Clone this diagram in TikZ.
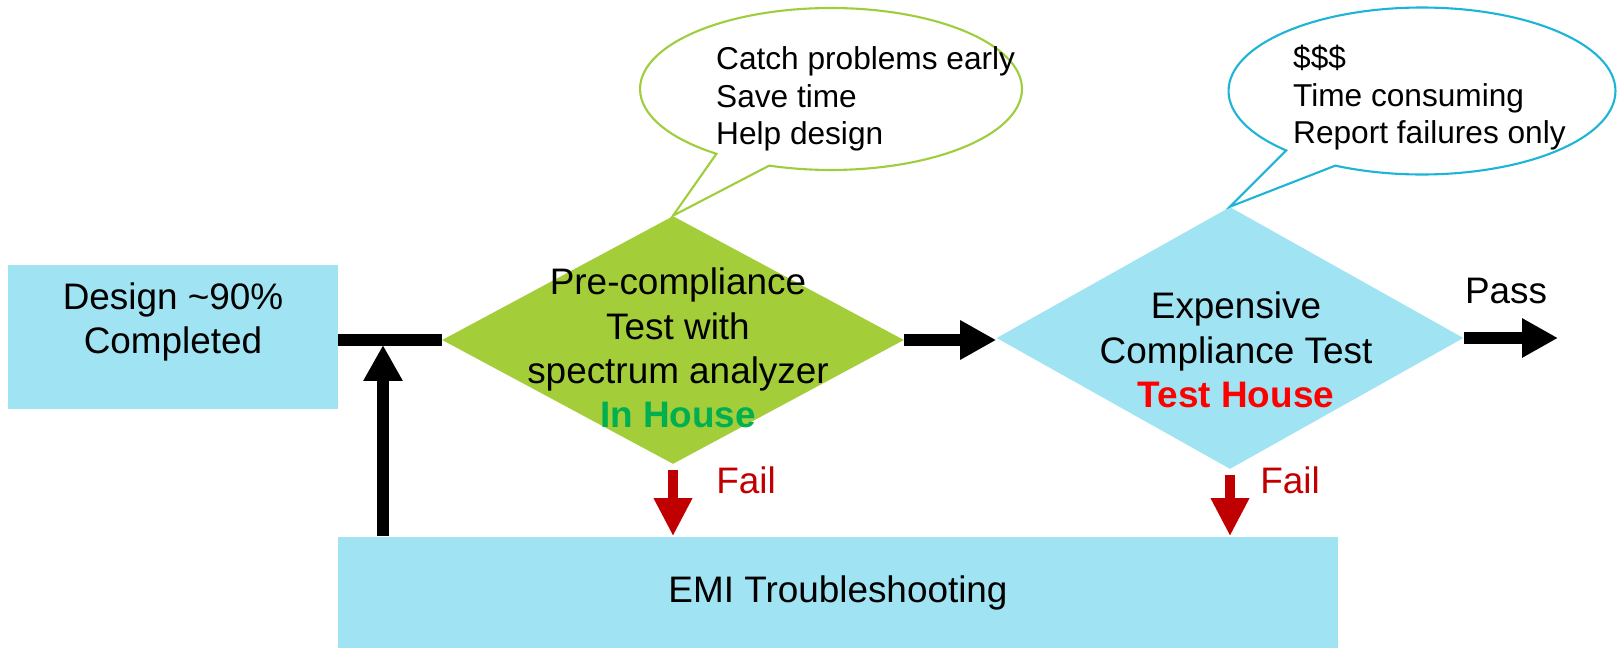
\documentclass[tikz,border=0pt]{standalone}
\usepackage{fontspec}
\setmainfont{Liberation Sans}
\usepackage{tikz}
\usetikzlibrary{shapes.geometric, shapes.callouts, arrows.meta, positioning}
\usepackage{xcolor}
\definecolor{boxblue}{RGB}{160,227,242}
\definecolor{diagreen}{RGB}{164,206,57}
\definecolor{housegreen}{RGB}{0,176,80}
\definecolor{failred}{RGB}{192,0,0}
\definecolor{bubblegreen}{RGB}{160,205,60}
\definecolor{bubbleblue}{RGB}{30,180,215}

\begin{document}
\begin{tikzpicture}[x=0.02cm, y=-0.02cm,
    every node/.style={font=\fontsize{21}{25.2}\selectfont},
    bluebox/.style={fill=boxblue, inner sep=0pt},
    decision/.style={diamond, inner sep=0pt},
    bubble/.style={ellipse callout, fill=white, line width=1.2pt, inner sep=0pt, callout pointer arc=18},
    bubbletext/.style={align=left, anchor=west, font=\fontsize{18}{21.3}\selectfont},
    flow/.style={line width=6.8pt, -{Triangle[width=0.74cm, length=0.72cm]}},
    failflow/.style={failred, line width=6.2pt, shorten <=3pt, -{Triangle[width=0.72cm, length=0.76cm]}}]
        \useasboundingbox (0,0) rectangle (1618,648);
        % Boxes
        \node[bluebox, minimum width=6.6cm, minimum height=2.88cm] (design) at (173,337) {};
        \node[align=center] (designtext) at (173,322) {Design \textasciitilde 90\%\\Completed};
        \node[bluebox, minimum width=20cm, minimum height=2.26cm] (emi) at (838,593) {EMI Troubleshooting};
        % Decisions
        \node[decision, fill=diagreen, minimum width=9.24cm, minimum height=4.96cm] (pre) at (673,340) {};
        \node[align=center] (pretext) at (678,348) {Pre-compliance\\Test with\\spectrum analyzer\\\textcolor{housegreen}{\textbf{In House}}};
        \node[decision, fill=boxblue, minimum width=9.34cm, minimum height=5.24cm] (ect) at (1230,338) {};
        \node[align=center] (ecttext) at (1236,350) {Expensive\\Compliance Test\\\textcolor{red}{\textbf{Test House}}};
        % Callouts
        \node[bubble, draw=bubblegreen, minimum width=7.64cm, minimum height=3.24cm, callout absolute pointer={(pre.north)}] (pros) at (831,89) {};
        \node[bubbletext] (prostext) at (710,99) {Catch problems early\\Save time\\Help design};
        \node[bubble, draw=bubbleblue, minimum width=7.74cm, minimum height=3.34cm, callout absolute pointer={(ect.north)}] (cons) at (1422,91) {};
        \node[bubbletext] (constext) at (1287,98) {\$\$\$\\Time consuming\\Report failures only};
        % Labels
        \node[text=failred] (fail1) at (746,480) {Fail};
        \node[text=failred] (fail2) at (1290,480) {Fail};
        \node (pass) at (1506,291) {Pass};
        % Flow
        \coordinate (loop) at (383,345);
        \coordinate (passend) at (1558,338);
        \draw[line width=6.8pt] (design.east |- pre.west) -- (pre.west);
        \draw[flow] (emi.north -| loop) -- (loop);
        \draw[flow] (pre.east) -- (pre.east -| ect.west);
        \draw[flow] (ect.east) -- (passend);
        \draw[failflow] (pre.south) -- (pre.south |- emi.north);
        \draw[failflow] (ect.south) -- (ect.south |- emi.north);
\end{tikzpicture}
\end{document}
